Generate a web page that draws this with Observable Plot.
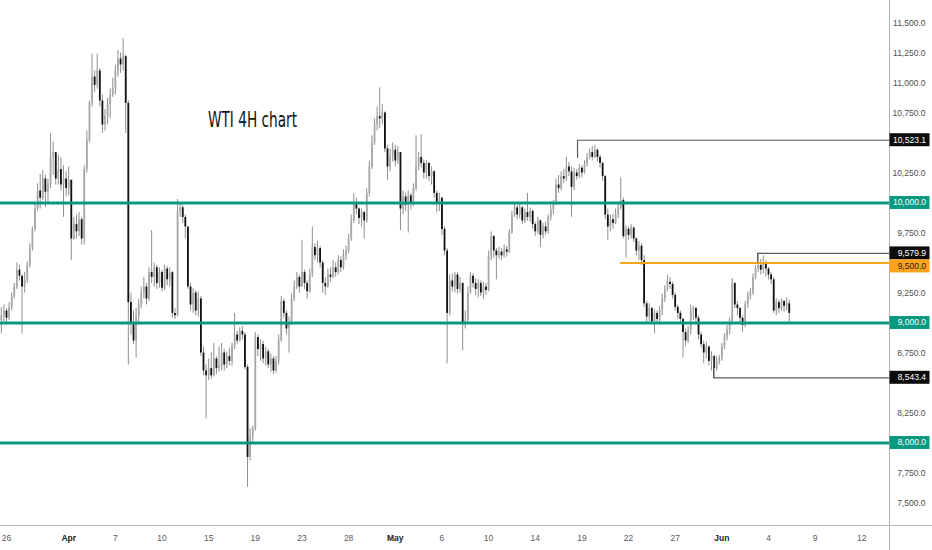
<!DOCTYPE html>
<html><head><meta charset="utf-8">
<script src="https://cdn.jsdelivr.net/npm/d3@7"></script>
<script src="https://cdn.jsdelivr.net/npm/@observablehq/plot@0.6"></script>
<style>
html,body{margin:0;padding:0;background:#fff;}
#chart svg{display:block;}
</style></head><body><div id="chart"></div>
<script>
// ---- data (4H candles) ----
const firstOpen = 9020;
const close = [
9060,9100,9040,9130,9220,9300,9440,9390,9300,9360,
9480,9620,9780,9950,10100,10040,10200,10090,10150,10380,
10420,10200,10280,10150,10200,10120,10190,9700,9820,9760,
9860,9700,10280,10520,10830,11050,10980,11100,10850,10650,
10720,10820,10900,10960,11100,11200,11150,11220,10830,9170,
9000,8850,9050,9150,9250,9300,9200,9420,9380,9460,
9330,9420,9290,9450,9360,9420,9080,9060,9930,9960,
9880,9800,9300,9150,9250,9100,9200,8750,8600,8560,
8620,8560,8700,8620,8640,8750,8650,8720,8680,8800,
8900,8850,8930,8900,8630,7880,8050,8120,8880,8780,
8820,8700,8760,8650,8700,8600,8680,8850,9180,9080,
8950,9000,9200,9300,9380,9300,9420,9330,9260,9400,
9630,9560,9620,9500,9330,9300,9400,9380,9460,9420,
9520,9460,9560,9600,9700,9850,10000,9950,9870,9920,
9850,10080,10300,10500,10650,10720,10700,10750,10450,10300,
10380,10440,10350,10420,9950,10050,9980,10060,9990,10120,
10300,10380,10330,10250,10330,10220,10260,10080,10000,10040,
9780,9600,9080,9350,9300,9400,9280,9330,9000,9020,
9250,9390,9330,9280,9330,9250,9300,9270,9550,9720,
9600,9560,9590,9560,9610,9590,9750,9900,9960,9900,
9960,9850,9920,9880,9930,9820,9760,9850,9730,9800,
9760,9880,9940,10000,10150,10120,10220,10200,10300,10260,
10130,10250,10220,10290,10250,10320,10380,10420,10380,10440,
10380,10330,10220,9900,9800,9860,9830,9900,9960,10020,
9720,9780,9730,9790,9700,9600,9640,9520,9160,9050,
9120,9010,9080,9030,9100,9200,9280,9340,9320,9230,
9130,9080,9030,8920,8850,8940,9100,9120,9040,8900,
8820,8750,8800,8680,8720,8620,8680,8700,8800,8880,
8940,9000,9330,9150,9120,9040,8980,9150,9220,9250,
9380,9450,9480,9440,9500,9450,9400,9360,9100,9170,
9120,9180,9140,9160,9080
];
const high = [
9130,9150,9120,9170,9250,9330,9500,9480,9400,9420,
9510,9660,9800,9990,10160,10240,10270,10230,10200,10580,
10510,10420,10400,10380,10310,10260,10300,10190,9880,9900,
9920,9880,10310,10600,10850,11240,11100,11240,11120,10900,
10780,10870,10950,11040,11150,11270,11250,11370,11230,10850,
9250,9100,9120,9200,9300,9380,9330,9460,9770,9500,
9480,9460,9440,9480,9470,9460,9430,9120,10030,10000,
9980,9900,9800,9330,9290,9270,9260,9220,8800,8650,
8700,8750,8830,8720,8800,8830,8780,8760,8790,8830,
9080,8930,8960,8970,8920,8650,8120,8140,8920,8900,
8860,8850,8800,8780,8740,8720,8720,8900,9220,9200,
9100,9050,9240,9350,9420,9400,9690,9440,9350,9450,
9800,9660,9680,9640,9520,9380,9450,9460,9520,9500,
9560,9550,9610,9640,9740,9900,10080,10040,9960,9950,
9930,10120,10350,10560,10700,10800,10960,10820,10760,10480,
10450,10500,10480,10470,10420,10100,10080,10100,10080,10160,
10560,10420,10570,10360,10350,10340,10300,10270,10100,10080,
10050,9800,9620,9400,9410,9420,9420,9380,9330,9100,
9300,9420,9410,9370,9360,9350,9340,9330,9600,9760,
9730,9620,9630,9620,9650,9640,9780,9930,10000,9980,
9990,9970,9950,10080,9960,9940,9840,9880,9860,9830,
9840,9900,9980,10020,10200,10230,10260,10280,10380,10340,
10300,10290,10280,10320,10310,10350,10410,10450,10470,10480,
10450,10400,10340,10230,9950,9900,9900,9950,9990,10210,
10040,9810,9800,9820,9800,9710,9680,9660,9560,9180,
9160,9130,9110,9100,9140,9240,9310,9400,9380,9340,
9250,9150,9100,9040,8950,8970,9150,9140,9130,9060,
8920,8850,8840,8810,8760,8730,8720,8730,8830,8910,
8980,9040,9370,9320,9180,9130,9060,9180,9260,9290,
9410,9480,9580,9530,9560,9520,9460,9420,9380,9200,
9190,9200,9190,9210,9190
];
const low = [
8910,9000,8990,9020,9100,9200,9280,9350,8910,9250,
9330,9460,9600,9760,9930,9950,10020,9960,10000,10120,
10230,10150,10150,10100,9880,10050,10060,9520,9690,9700,
9720,9650,9650,10250,10500,10800,10920,10950,10800,10580,
10600,10650,10700,10880,10900,11050,11080,11100,10580,8650,
8900,8820,8710,8980,9120,9200,9150,9180,9330,9300,
9280,9290,9260,9270,9310,9300,9040,9030,9050,9880,
9830,9700,9280,9100,9080,9060,9050,8720,8560,8200,
8520,8530,8550,8570,8590,8600,8600,8620,8640,8640,
8780,8820,8840,8860,8610,7630,7850,8000,8100,8720,
8680,8660,8640,8620,8590,8570,8580,8650,8840,9040,
8900,8750,8980,9180,9280,9250,9300,9280,9200,9250,
9380,9520,9500,9460,9250,9230,9290,9340,9370,9380,
9400,9420,9440,9520,9580,9680,9830,9900,9820,9800,
9700,9830,10050,10280,10480,10600,10620,10650,10420,10190,
10260,10340,10300,10320,9770,9900,9930,9750,9940,9970,
10100,10270,10290,10200,10200,10180,10150,10040,9920,9930,
9730,9560,8660,9060,9260,9250,9240,9250,8770,8950,
9000,9240,9290,9230,9210,9220,9200,9230,9260,9520,
9540,9360,9530,9520,9540,9550,9580,9740,9880,9860,
9870,9820,9830,9850,9840,9780,9720,9740,9630,9700,
9730,9740,9850,9900,9980,10080,10100,10160,10180,10220,
9880,10100,10190,10200,10210,10240,10300,10360,10350,10370,
10340,10290,10180,9860,9690,9760,9780,9820,9870,9940,
9700,9540,9690,9700,9670,9560,9520,9480,9130,9000,
9010,8990,8910,8990,9000,9060,9170,9260,9280,9200,
9100,9030,8990,8710,8800,8830,8900,9020,9000,8860,
8790,8660,8700,8640,8600,8543,8600,8650,8680,8780,
8850,8900,8980,9120,9060,9000,8920,8960,9120,9190,
9230,9360,9420,9400,9410,9380,9360,9320,9080,9060,
9080,9100,9090,9100,9000
];
const barsPerDay = 6;
const firstBarOffset = -2;
const xDomain = [-0.386, 56.78];
const yDomain = [7312.5, 11687.5];
const dayTicks = [0, 4, 7, 10, 13, 16, 19, 22, 25, 28, 31, 34, 37, 40, 43, 46, 49, 52, 55];
const dayLabels = ["26", "Apr", "7", "10", "15", "19", "23", "28", "May", "6", "10", "14", "19", "22", "27", "Jun", "4", "9", "12"];
const monthNames = ["Apr", "May", "Jun"];
const priceTicks = [7500, 7750, 8250, 8750, 9250, 9750, 10250, 10750, 11000, 11250, 11500];
const supportLevels = [10000, 9000, 8000];
const rayValues = [10523.1, 9579.9, 8543.4];
const rayStartDay = [36.72, 48.30, 45.47];
const rayCornerEnd = [10380, 9510, 8715];
const orangeValue = 9500;
const orangeStartDay = 39.49;
const labelValues = [10523.1, 10000, 9579.9, 9500, 9000, 8543.4, 8000];
const labelKinds = ["ray", "support", "ray", "orange", "support", "ray", "support"];
const titleText = "WTI 4H chart";

// ---- pick a narrow face if one is installed ----
function hasFont(name) {
  const c = document.createElement("canvas").getContext("2d");
  const s = "11,500.0 WTI chart Apr";
  c.font = "20px monospace"; const a = c.measureText(s).width;
  c.font = `20px "${name}", monospace`; const b = c.measureText(s).width;
  return Math.abs(a - b) > 0.5;
}
const narrow = hasFont("Liberation Sans Narrow");
const axisFont = narrow ? "'Liberation Sans Narrow', 'Liberation Sans', Arial, sans-serif" : "'Liberation Sans', Arial, sans-serif";
const axisSize = narrow ? 10 : 8.5;

// ---- build tables ----
const bars = close.map((c, i) => {
  const o = i === 0 ? firstOpen : close[i - 1];
  return {
    x: (i + firstBarOffset) / barsPerDay,
    open: o, close: c,
    high: Math.max(high[i], o, c),
    low: Math.min(low[i], o, c),
    up: c >= o
  };
});
const rayPoints = rayValues.flatMap((v, i) => [
  {id: i, x: rayStartDay[i], y: rayCornerEnd[i]},
  {id: i, x: rayStartDay[i], y: v},
  {id: i, x: xDomain[1], y: v}
]);
const tickLabel = d => dayLabels[dayTicks.indexOf(d)];
const monthTicks = dayTicks.filter(d => monthNames.includes(tickLabel(d)));
const plainTicks = dayTicks.filter(d => !monthNames.includes(tickLabel(d)));

const TEAL = "#089981", ORANGE = "#f7a21b";

const chart = Plot.plot({
  width: 932, height: 550,
  marginLeft: 0, marginRight: 43, marginTop: 0, marginBottom: 25,
  style: {fontFamily: axisFont, fontSize: axisSize + "px", background: "#fff"},
  x: {type: "linear", domain: xDomain},
  y: {type: "linear", domain: yDomain},
  marks: [
    Plot.ruleX(bars, {x: "x", y1: "low", y2: "high", stroke: "#8e8e8e", strokeWidth: 1}),
    Plot.ruleX(bars, {x: "x", y1: "open", y2: "close", stroke: d => d.up ? "#a8a8a8" : "#111111", strokeWidth: 1.8}),
    Plot.ruleY(supportLevels, {stroke: TEAL, strokeWidth: 3}),
    Plot.ruleY([orangeValue], {y: d => d, x1: () => orangeStartDay, x2: () => xDomain[1], stroke: ORANGE, strokeWidth: 2}),
    Plot.line(rayPoints, {x: "x", y: "y", z: "id", stroke: "#5a5a5a", strokeWidth: 1.2}),
    Plot.axisY(priceTicks, {anchor: "right", tickSize: 0, tickPadding: 36, textAnchor: "end",
      tickFormat: d3.format(",.1f"), fill: "#4d4d4d", fontSize: axisSize, label: null}),
    Plot.axisX(plainTicks, {anchor: "bottom", tickSize: 0, tickPadding: 9, tickFormat: tickLabel,
      fill: "#5a5a5a", fontSize: axisSize, label: null}),
    Plot.axisX(monthTicks, {anchor: "bottom", tickSize: 0, tickPadding: 9, tickFormat: tickLabel,
      fill: "#222", fontSize: axisSize, fontWeight: "bold", label: null}),
    Plot.text([titleText], {frameAnchor: "top-left", dx: 252, dy: 111, textAnchor: "middle",
      fontSize: 22, fill: "#111", fontFamily: "DejaVu Sans"})
  ]
});
document.getElementById("chart").append(chart);

// ---- frame lines & price labels on the right scale ----
const yScale = chart.scale("y");
const svg = d3.select(chart);
svg.append("line").attr("x1", 0).attr("x2", 932).attr("y1", 525.5).attr("y2", 525.5)
  .attr("stroke", "#b4b4b4").attr("stroke-width", 1);
svg.append("line").attr("x1", 889.5).attr("x2", 889.5).attr("y1", 0).attr("y2", 550)
  .attr("stroke", "#b4b4b4").attr("stroke-width", 1);

const kindStyle = {
  ray: {bg: "#0c0c0c", fg: "#ffffff"},
  support: {bg: TEAL, fg: "#ffffff"},
  orange: {bg: "#ffa21c", fg: "#1a1a1a"}
};
const boxH = 13;
let prevBottom = -Infinity;
const fmt = d3.format(",.1f");
const gBoxes = svg.append("g").attr("aria-label", "price labels")
  .attr("font-family", axisFont).attr("font-size", axisSize);
labelValues.map((v, i) => ({v, kind: labelKinds[i]}))
  .sort((a, b) => b.v - a.v)
  .forEach(({v, kind}) => {
    let cy = yScale.apply(v);
    if (cy - boxH / 2 < prevBottom) cy = prevBottom + boxH / 2;
    prevBottom = cy + boxH / 2;
    const st = kindStyle[kind];
    gBoxes.append("rect").attr("x", 889.5).attr("y", cy - boxH / 2).attr("width", 40).attr("height", boxH)
      .attr("fill", st.bg);
    gBoxes.append("text").attr("x", 926).attr("y", cy).attr("dy", "0.35em").attr("text-anchor", "end")
      .attr("fill", st.fg).text(fmt(v));
  });

// condensed title lettering, as in the reference
chart.querySelectorAll("text").forEach(el => {
  if (el.textContent === titleText) {
    el.setAttribute("textLength", "89");
    el.setAttribute("lengthAdjust", "spacingAndGlyphs");
  }
});
</script>
</body></html>
